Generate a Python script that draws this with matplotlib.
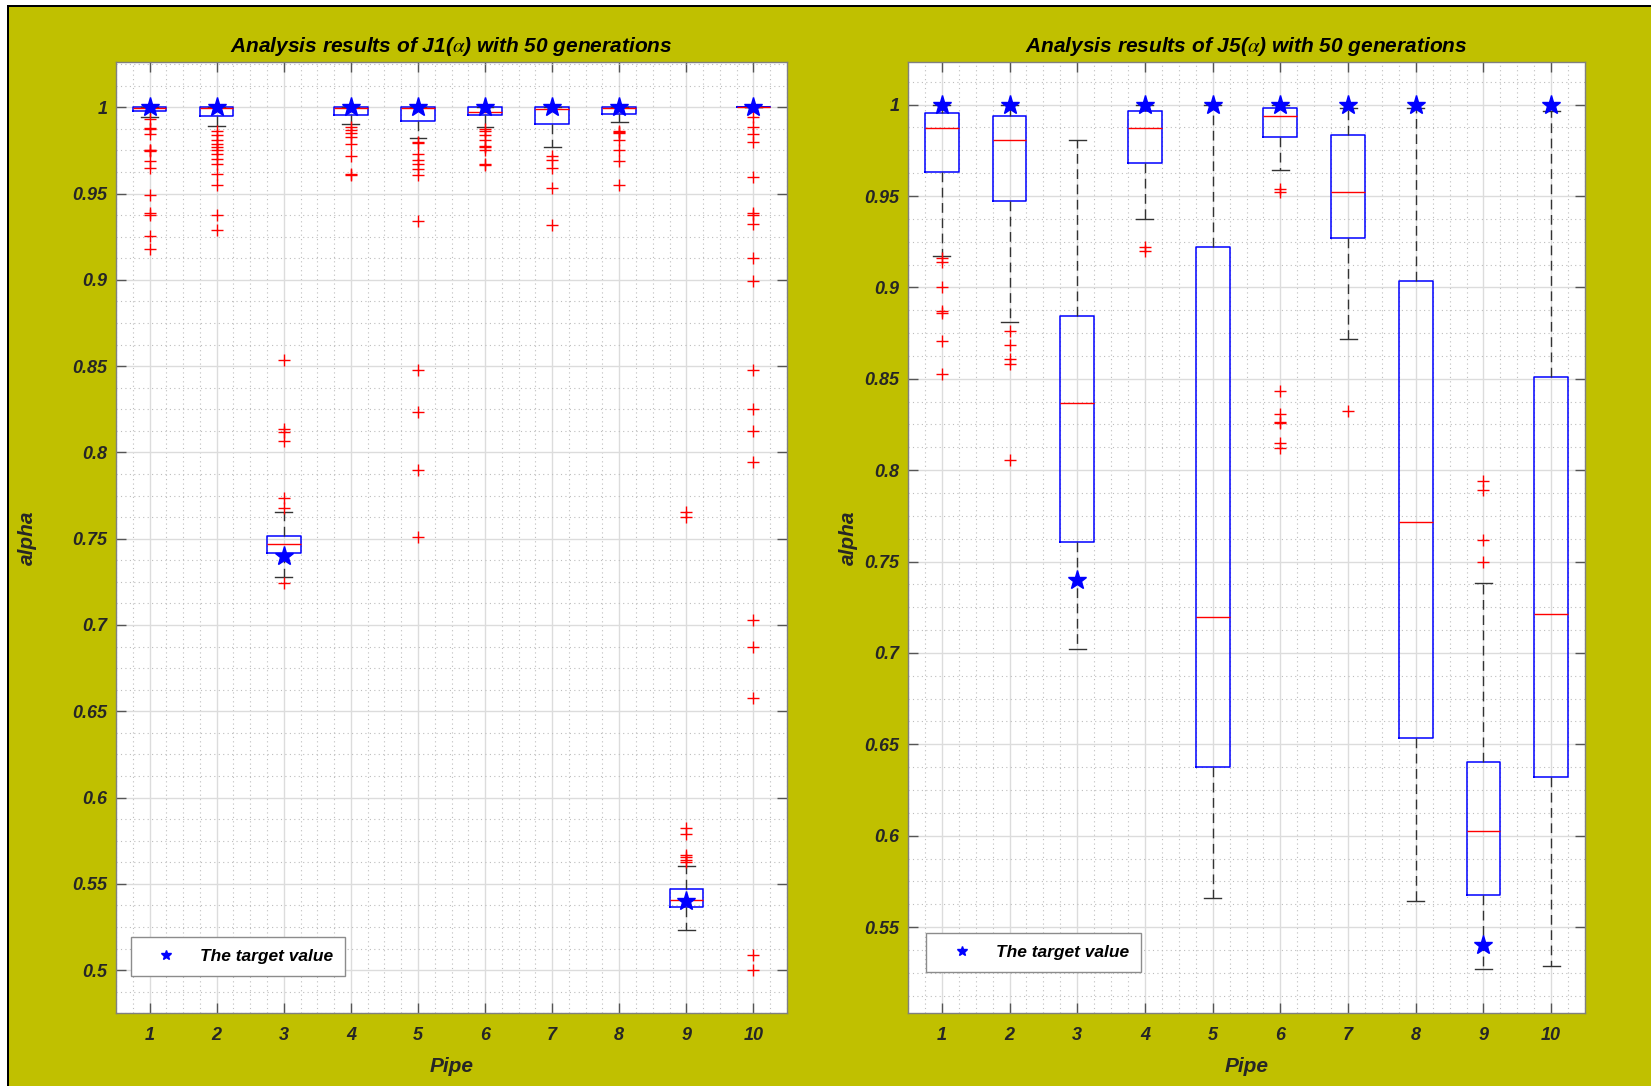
import matplotlib
matplotlib.use("Agg")
import matplotlib.pyplot as plt
from matplotlib.patches import Rectangle
from matplotlib.ticker import MultipleLocator
import numpy as np

plt.rcParams['font.family'] = ['Liberation Sans', 'DejaVu Sans']
plt.rcParams['mathtext.fontset'] = 'stix'

pipes = [1, 2, 3, 4, 5, 6, 7, 8, 9, 10]
targets = [1.0, 1.0, 0.74, 1.0, 1.0, 1.0, 1.0, 1.0, 0.54, 1.0]

# ---- J1 ----
j1_q1 = [0.9979, 0.9947, 0.7419, 0.9955, 0.9920, 0.9955, 0.9905, 0.9963, 0.5367, 1.0]
j1_med = [0.9995, 0.9997, 0.7471, 0.9998, 0.9998, 0.9973, 0.9988, 0.9998, 0.5407, 1.0]
j1_q3 = [1.0, 1.0, 0.7517, 1.0, 1.0, 1.0, 1.0, 1.0, 0.5471, 1.0]
j1_lo = [0.9944, 0.9890, 0.7281, 0.9905, 0.9819, 0.9883, 0.9768, 0.9912, 0.5232, 1.0]
j1_hi = [1.0, 1.0, 0.7655, 1.0, 1.0, 1.0, 1.0, 1.0, 0.5604, 1.0]
j1_fliers = [
    [0.993, 0.988, 0.9875, 0.9846, 0.9755, 0.975, 0.9745, 0.969, 0.9648, 0.9494, 0.939, 0.9377, 0.9253, 0.9177],
    [0.9864, 0.9838, 0.981, 0.979, 0.977, 0.975, 0.9728, 0.970, 0.967, 0.9611, 0.955, 0.9375, 0.9288],
    [0.8537, 0.8133, 0.812, 0.8068, 0.7736, 0.768, 0.7245],
    [0.9888, 0.9868, 0.9848, 0.983, 0.9786, 0.9716, 0.9612, 0.9605],
    [0.980, 0.9795, 0.973, 0.9695, 0.967, 0.964, 0.961, 0.934, 0.8477, 0.8237, 0.7898, 0.7508],
    [0.9872, 0.9865, 0.984, 0.981, 0.9778, 0.9772, 0.975, 0.9672, 0.9665],
    [0.9716, 0.9696, 0.9648, 0.953, 0.9317],
    [0.986, 0.9855, 0.985, 0.981, 0.9755, 0.969, 0.9547],
    [0.7655, 0.7624, 0.5822, 0.579, 0.5668, 0.5654, 0.5639, 0.5625],
    [0.9945, 0.9883, 0.9844, 0.9796, 0.9595, 0.9385, 0.9378, 0.9323, 0.9124, 0.8992,
     0.8477, 0.8251, 0.8126, 0.7944, 0.7027, 0.6874, 0.6578, 0.5087, 0.5],
]

# ---- J5 ----
j5_q1 = [0.9633, 0.9474, 0.7605, 0.9682, 0.6376, 0.9821, 0.9268, 0.6533, 0.5674, 0.6320]
j5_med = [0.9870, 0.9807, 0.8369, 0.9870, 0.7195, 0.9938, 0.9524, 0.7718, 0.6027, 0.7215]
j5_q3 = [0.9953, 0.9940, 0.8845, 0.9967, 0.9223, 0.9980, 0.9836, 0.9035, 0.6403, 0.8507]
j5_lo = [0.9172, 0.8811, 0.7020, 0.9372, 0.5661, 0.9642, 0.8715, 0.5641, 0.5269, 0.5287]
j5_hi = [1.0, 1.0, 0.9807, 1.0, 1.0, 1.0, 0.998, 0.998, 0.7384, 0.9967]
j5_fliers = [
    [0.916, 0.914, 0.900, 0.8873, 0.8862, 0.8705, 0.8527],
    [0.8764, 0.8687, 0.8607, 0.8582, 0.8056],
    [],
    [0.9219, 0.920],
    [],
    [0.9538, 0.9523, 0.8433, 0.8307, 0.8262, 0.8258, 0.8151, 0.812],
    [0.8322],
    [],
    [0.7938, 0.789, 0.762, 0.750],
    [],
]

OLIVE = '#C0C000'
TXT = '#262626'
W, H = 1651, 1086
fig = plt.figure(figsize=(W / 100, H / 100), dpi=100, facecolor=OLIVE)

# screenshot frame
fig.patches.append(Rectangle((0, 1 - 5 / H), 1, 5 / H, transform=fig.transFigure, facecolor='white', edgecolor='none', zorder=-1))
fig.patches.append(Rectangle((0, 1 - 7 / H), 1, 2 / H, transform=fig.transFigure, facecolor='black', edgecolor='none', zorder=-1))
fig.patches.append(Rectangle((0, 0), 7 / W, 1, transform=fig.transFigure, facecolor='white', edgecolor='none', zorder=-1))
fig.patches.append(Rectangle((7 / W, 0), 2 / W, 1 - 5 / H, transform=fig.transFigure, facecolor='black', edgecolor='none', zorder=-1))

ax_bottom = 1 - 1013.3 / H
ax_h = (1013.3 - 61.7) / H
ax1 = fig.add_axes([116 / W, ax_bottom, 671 / W, ax_h])
ax2 = fig.add_axes([908 / W, ax_bottom, 677 / W, ax_h])

bold_it = dict(fontweight='bold', fontstyle='italic')


def draw(ax, q1, med, q3, lo, hi, fl, title, ylim, yticks_lo, leg_xy, ylab_x):
    stats = []
    for i in range(len(pipes)):
        stats.append(dict(q1=q1[i], med=med[i], q3=q3[i], whislo=lo[i], whishi=hi[i], fliers=fl[i]))
    ax.bxp(stats, positions=pipes, widths=0.5, capwidths=0.25, showfliers=True,
           boxprops=dict(color='#0000FF', linewidth=1.1),
           medianprops=dict(color='#FF0000', linewidth=1.0),
           whiskerprops=dict(color='#333333', linewidth=1.0, linestyle=(0, (7, 4))),
           capprops=dict(color='#333333', linewidth=1.0),
           flierprops=dict(marker='+', markeredgecolor='#FF0000', markersize=9, markeredgewidth=1.0,
                           linestyle='none'),
           manage_ticks=False, zorder=3)
    ax.plot(pipes, targets, linestyle='none', marker='*', color='#0000FF', markersize=14,
            label='The target value', zorder=5)
    ax.set_xlim(0.5, 10.5)
    ax.set_ylim(*ylim)
    ax.set_xticks(pipes)
    ax.set_xticklabels([str(p) for p in pipes])
    ax.set_yticks(np.round(np.arange(yticks_lo, 1.0001, 0.05), 2))
    ax.yaxis.set_major_formatter(matplotlib.ticker.FuncFormatter(lambda v, p: ('%g' % round(v, 2))))
    ax.xaxis.set_minor_locator(MultipleLocator(0.25))
    ax.yaxis.set_minor_locator(MultipleLocator(0.0125))
    ax.grid(which='major', color='#dcdcdc', linewidth=1.0, linestyle='-', zorder=0)
    ax.grid(which='minor', color='#bdbdbd', linewidth=0.8, linestyle=(0, (1, 3)), zorder=0)
    ax.set_axisbelow(True)
    ax.tick_params(which='major', direction='in', top=True, right=True, length=7, width=1,
                   color='#555555', labelcolor=TXT, labelsize=13)
    ax.tick_params(which='minor', length=0)
    ax.tick_params(axis='x', pad=10)
    ax.tick_params(axis='y', pad=6)
    for lab in ax.get_xticklabels() + ax.get_yticklabels():
        lab.set_fontweight('bold')
        lab.set_fontstyle('italic')
    for sp in ax.spines.values():
        sp.set_color('#808080')
        sp.set_linewidth(1.0)
    ax.set_title(title, fontsize=15, pad=7, color='black', **bold_it)
    ax.set_xlabel('Pipe', fontsize=15, color=TXT, **bold_it)
    ax.xaxis.set_label_coords(0.5, -0.056)
    ax.xaxis.label.set_va('center')
    ax.set_ylabel('alpha', fontsize=15, color=TXT, **bold_it)
    ax.yaxis.set_label_coords(ylab_x, 0.5)
    ax.yaxis.label.set_va('center')
    leg = ax.legend(loc='lower left', bbox_to_anchor=leg_xy, borderaxespad=0, frameon=True,
                    fancybox=False, edgecolor='#8c8c8c', framealpha=1, markerscale=0.55,
                    handlelength=2.7, handletextpad=0.6, borderpad=0.7,
                    prop=dict(family=['Liberation Sans', 'DejaVu Sans'], weight='bold', style='italic', size=12.5))
    leg.get_frame().set_linewidth(1.0)
    for t in leg.get_texts():
        t.set_color('black')


draw(ax1, j1_q1, j1_med, j1_q3, j1_lo, j1_hi, j1_fliers,
     r'Analysis results of J1($\alpha$) with 50 generations', (0.475, 1.0264), 0.5,
     (0.022, 0.039), -0.1326)
draw(ax2, j5_q1, j5_med, j5_q3, j5_lo, j5_hi, j5_fliers,
     r'Analysis results of J5($\alpha$) with 50 generations', (0.5028, 1.0235), 0.55,
     (0.027, 0.043), -0.0886)

fig.savefig('out.png', dpi=100, facecolor=OLIVE)
